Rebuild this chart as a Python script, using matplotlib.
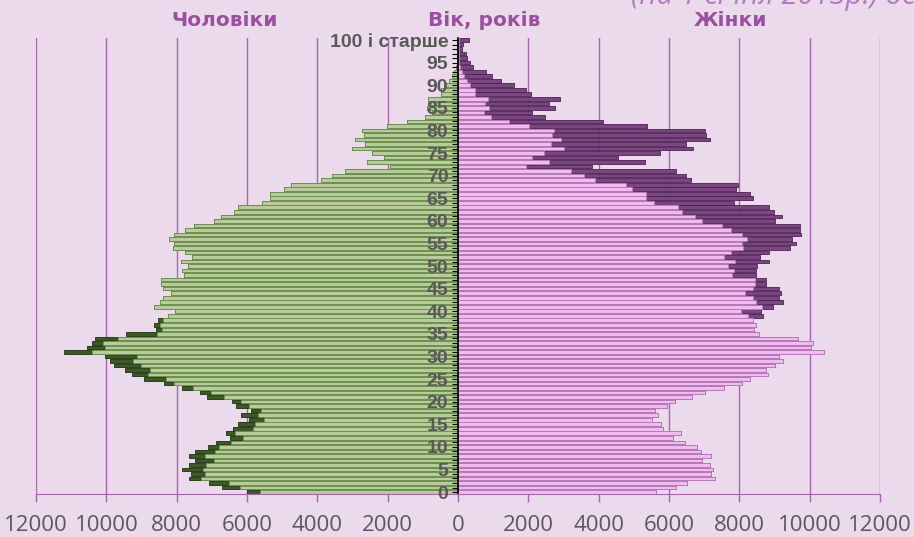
import numpy as np
import matplotlib.pyplot as plt
from matplotlib import font_manager

# population by single year of age, 0 .. "100 and over"
ages = np.arange(101)
males = [6010, 6720, 7070, 7640, 7600, 7850, 7650, 7480, 7650, 7470,
         7120, 6890, 6490, 6600, 6410, 6250, 5940, 6180, 5900, 6300,
         6440, 7150, 7330, 7840, 8370, 8920, 9270, 9480, 9790, 9900,
         10050, 11190, 10560, 10410, 10330, 9440, 8590, 8640, 8540, 8240,
         8055, 8655, 8466, 8400, 8153, 8400, 8447, 8450, 7790, 7836,
         7690, 7874, 7562, 7765, 8096, 8063, 8229, 8063, 7765, 7519,
         6927, 6751, 6373, 6250, 5587, 5350, 5350, 4950, 4763, 3882,
         3570, 3205, 1941, 2580, 2093, 2450, 3020, 2656, 2916, 2680,
         2737, 2027, 1448, 946, 750, 890, 770, 865, 475, 480,
         355, 250, 175, 104, 57, 40, 30, 37, 20, 15, 15]
females = [5630, 6210, 6510, 7300, 7200, 7260, 7180, 6940, 7200, 6910,
           6790, 6460, 6100, 6330, 5820, 5760, 5510, 5700, 5590, 5950,
           6180, 6660, 7030, 7550, 8080, 8290, 8810, 8770, 9020, 9240,
           9130, 10410, 10040, 10100, 9680, 8560, 8420, 8460, 8380, 8674,
           8608, 8958, 9233, 9119, 9176, 9119, 8769, 8769, 8466, 8466,
           8513, 8835, 8599, 8845, 9451, 9621, 9508, 9744, 9716, 9735,
           9025, 9224, 8986, 8835, 7850, 8390, 8295, 7916, 7964, 6638,
           6477, 6193, 3798, 5313, 4536, 5758, 6695, 6477, 7178, 7064,
           7017, 5379, 4129, 2462, 2093, 2756, 2585, 2907, 2074, 1932,
           1591, 1212, 966, 795, 436, 341, 246, 218, 104, 133, 313]

age_labels = [str(a) if a % 5 == 0 else '' for a in ages]
age_labels[100] = '100 і старше'
x_ticks = list(range(-12000, 12001, 2000))

names = {f.name for f in font_manager.fontManager.ttflist}
narrow = 'Liberation Sans Narrow' in names
head_font = 'Liberation Sans Narrow' if narrow else 'DejaVu Sans'
head_size = 19 if narrow else 14.5
lab_font = 'Liberation Sans' if 'Liberation Sans' in names else 'DejaVu Sans'
num_font = 'Open Sans' if 'Open Sans' in names else 'DejaVu Sans'

bg = '#ebdaeb'
grid_c = '#a866b0'
title_c = '#9b4f9f'

fig = plt.figure(figsize=(9.14, 5.37), dpi=100)
fig.patch.set_facecolor(bg)
ax = fig.add_axes([0.0394, 0.0795, 0.9234, 0.8501])
ax.set_facecolor(bg)

m = np.array(males)
f = np.array(females)
common = np.minimum(m, f)

# vertical grid behind everything
for v in x_ticks:
    ax.axvline(v, color=grid_c, linewidth=1, zorder=0.5)

# excess drawn behind, common part on top
ax.barh(ages, -m, height=0.8, color='#3b5a24', edgecolor='#1c300e', linewidth=0.6, zorder=1.1)
ax.barh(ages, -common, height=0.8, color='#b8cb9a', edgecolor='#6e9150', linewidth=0.7, zorder=1.3)
ax.barh(ages, f, height=0.8, color='#7b4581', edgecolor='#4a2050', linewidth=0.6, zorder=1.1)
ax.barh(ages, common, height=0.8, color='#f2b9f2', edgecolor='#b47db4', linewidth=0.7, zorder=1.3)

# spines first: moving a spine resets the ticks
for s in ['top', 'right']:
    ax.spines[s].set_visible(False)
ax.spines['bottom'].set_color(grid_c)
ax.spines['left'].set_position(('data', 0))
ax.spines['left'].set_color('black')
ax.spines['left'].set_linewidth(1.2)

ax.set_axisbelow(False)
ax.set_xlim(-12000, 12000)
ax.set_ylim(-0.5, 100.5)
ax.set_xticks(x_ticks)
ax.set_xticklabels([str(abs(v)) for v in x_ticks])
ax.tick_params(axis='x', length=6, width=1, color=grid_c, pad=9,
               labelsize=16, labelcolor='#595959', labelfontfamily=num_font)

ax.set_yticks(ages)
ax.set_yticklabels(age_labels)
ax.tick_params(axis='y', length=4, width=0.8, color='black', pad=3,
               labelsize=14, labelcolor='#595959', labelfontfamily=lab_font)
for t in ax.get_yticklabels():
    t.set_fontweight('bold')

fig.text(0.246, 0.961, 'Чоловіки', ha='center', va='center', family=head_font,
         fontsize=head_size, fontweight='bold', color=title_c)
fig.text(0.5295, 0.961, 'Вік, років', ha='center', va='center', family=head_font,
         fontsize=head_size, fontweight='bold', color=title_c)
fig.text(0.799, 0.961, 'Жінки', ha='center', va='center', family=head_font,
         fontsize=head_size, fontweight='bold', color=title_c)
fig.text(0.69, 1 - 4 / 537, '(на 1 січня 2013р.) осіб', ha='left', va='baseline',
         family=num_font, fontsize=21, style='italic', color='#b07cc0')

fig.savefig('out.png', dpi=100, facecolor=bg)
